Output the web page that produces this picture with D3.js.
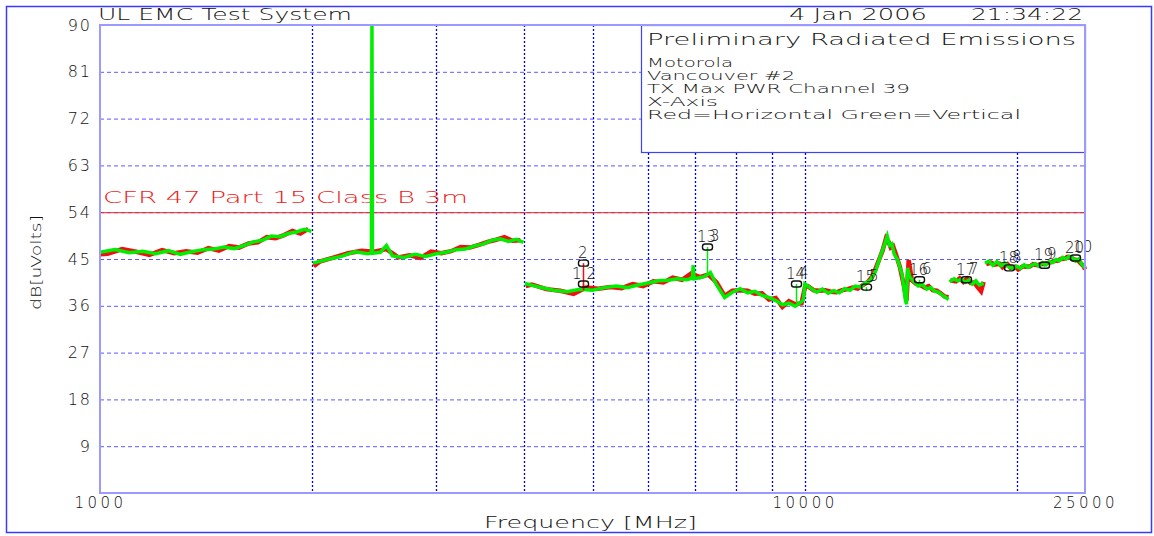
<!DOCTYPE html>
<html>
<head>
<meta charset="utf-8">
<title>UL EMC Test System</title>
<style>
  body { margin: 0; background: #fff; }
  svg text { font-family: "DejaVu Sans", sans-serif; font-weight: 200; fill: #111; }
</style>
</head>
<body>
<div id="chart"></div>
<script src="https://cdnjs.cloudflare.com/ajax/libs/d3/7.8.5/d3.min.js"></script>
<script>
// ---- data ----
var yTicks = [9, 18, 27, 36, 45, 54, 63, 72, 81, 90];
var xLabelTicks = [1000, 10000, 25000];
var xGridTicks = [2000, 3000, 4000, 5000, 6000, 7000, 8000, 9000, 10000, 20000];
var limitLevel = 54;
var limitLabel = 'CFR 47 Part 15  Class B 3m';
var infoLines = ['Motorola', 'Vancouver #2', 'TX Max PWR Channel 39', 'X-Axis', 'Red=Horizontal   Green=Vertical'];

// vertical polarisation (green), null = gap between sweep bands
var greenTrace = [
  [1000,46.3],[1050,46.8],[1100,46.2],[1150,46.5],[1200,46.0],[1250,46.6],[1300,45.9],[1350,46.4],[1400,46.8],
  [1450,46.9],[1500,47.3],[1550,47.0],[1600,47.6],[1650,48.3],[1700,48.6],[1750,49.4],[1800,49.3],[1850,49.9],
  [1900,50.2],[1950,50.7],[1995,50.3],
  null,
  [2005,44.2],[2100,44.9],[2200,45.5],[2300,46.4],[2400,46.0],[2428,46.2],[2432,90],[2436,46.1],[2500,46.3],
  [2550,47.6],[2600,45.6],[2700,45.3],[2800,45.9],[2900,45.5],[3000,46.0],[3100,46.3],[3200,46.8],[3300,46.9],
  [3400,47.5],[3500,47.9],[3600,48.6],[3700,48.9],[3800,48.4],[3900,48.8],[3990,48.2],
  null,
  [4010,40.3],[4200,39.6],[4400,39.0],[4600,38.7],[4800,39.2],[5000,39.0],[5200,39.5],[5400,39.8],[5600,39.5],
  [5800,40.0],[6000,40.4],[6200,40.8],[6400,40.9],[6600,41.2],[6800,41.0],[6930,41.3],[6950,43.8],[6970,41.2],
  [7200,41.6],[7350,42.4],[7500,40.0],[7700,37.6],[7900,38.6],[8100,39.3],[8300,38.5],[8500,38.8],[8700,38.0],
  [8900,37.6],[9100,37.0],[9300,36.2],[9500,36.5],[9700,35.9],[9900,36.8],[9960,37.2],[10010,40.2],[10200,39.4],
  [10400,38.6],[10600,39.2],[10800,38.4],[11000,38.9],[11200,38.5],[11400,39.3],[11600,39.0],[11800,39.8],
  [12000,39.6],[12200,40.4],[12400,40.9],[12600,42.6],[12800,45.4],[13000,48.0],[13100,49.4],[13200,47.6],
  [13300,47.9],[13400,46.0],[13550,44.8],[13750,42.0],[13900,37.2],[13950,36.3],[14000,43.3],[14100,41.5],
  [14300,40.6],[14500,39.8],[14700,40.1],[14900,39.2],[15100,39.5],[15300,38.8],[15500,38.6],[15700,38.0],
  [15900,37.5],[16000,37.2],
  null,
  [16050,40.6],[16300,41.2],[16500,40.8],[16700,41.1],[16900,40.5],[17100,40.9],[17300,40.2],[17500,40.8],
  [17700,40.0],[17950,40.3],
  null,
  [18030,44.2],[18250,44.6],[18500,43.8],[18750,44.5],[19000,43.7],[19250,44.2],[19500,43.5],[19750,43.2],
  [20000,43.6],[20250,43.2],[20500,43.9],[20750,43.4],[21000,43.8],[21250,44.1],[21500,43.6],[21750,44.3],
  [22000,43.9],[22250,44.5],[22500,44.3],[22750,44.9],[23000,44.7],[23250,45.3],[23500,45.0],[23750,45.5],
  [24000,45.2],[24250,44.6],[24500,45.0],[24750,44.0],[25000,43.3]
];

// horizontal polarisation (red)
var redTrace = [
  [1000,45.9],[1025,46.0],[1075,46.9],[1125,46.4],[1175,45.8],[1225,46.7],[1275,46.1],[1325,46.5],[1375,46.2],
  [1425,47.1],[1475,46.6],[1525,47.5],[1575,47.2],[1625,48.0],[1675,48.2],[1725,49.2],[1775,49.0],[1825,49.6],
  [1875,50.4],[1925,49.9],[1975,50.8],
  null,
  [2010,43.6],[2050,44.5],[2150,45.3],[2250,46.1],[2350,46.6],[2450,46.4],[2550,46.9],[2650,45.3],[2750,45.7],
  [2850,45.2],[2950,46.4],[3050,46.1],[3150,46.5],[3250,47.3],[3350,47.2],[3450,47.7],[3550,48.3],[3650,48.7],
  [3750,49.2],[3850,48.5],[3950,48.6],
  null,
  [4020,39.8],[4100,40.1],[4300,39.2],[4500,38.9],[4700,38.3],[4900,39.5],[5100,39.3],[5300,39.6],[5500,39.4],
  [5700,40.2],[5900,39.8],[6100,40.7],[6300,40.5],[6500,41.4],[6700,41.0],[6900,42.2],[7100,41.5],[7300,42.0],
  [7500,40.5],[7700,37.9],[7900,38.9],[8100,39.0],[8300,38.9],[8500,38.3],[8700,38.4],[8900,37.2],[9100,37.5],
  [9300,35.8],[9500,36.9],[9700,36.3],[9900,36.5],[10020,39.8],[10100,39.8],[10300,39.0],[10500,38.9],
  [10700,39.0],[10900,38.7],[11100,38.6],[11300,39.0],[11500,39.2],[11700,39.5],[11900,39.3],[12100,40.0],
  [12300,40.6],[12500,41.8],[12700,44.2],[12900,46.6],[13050,49.0],[13150,48.4],[13250,47.2],[13350,47.5],
  [13500,45.6],[13650,43.5],[13850,39.5],[13950,37.0],[14050,44.8],[14200,40.9],[14400,40.2],[14600,40.0],
  [14800,39.5],[15000,39.8],[15200,39.0],[15400,38.9],[15600,38.4],[15800,37.8],[16000,37.6],
  null,
  [16100,40.9],[16400,40.7],[16600,41.3],[16800,40.6],[17000,41.2],[17200,40.4],[17400,40.5],[17600,39.6],
  [17800,38.8],[17950,40.6],
  null,
  [18100,44.0],[18400,44.3],[18600,43.9],[18900,44.1],[19100,43.4],[19400,44.0],[19600,43.3],[19900,43.5],
  [20100,43.0],[20400,43.6],[20600,43.5],[20900,43.6],[21100,44.0],[21400,43.8],[21600,44.0],[21900,44.1],
  [22100,44.2],[22400,44.4],[22600,44.6],[22900,44.7],[23100,45.0],[23400,45.1],[23600,45.4],[23900,45.3],
  [24100,44.9],[24400,44.8],[24600,44.3],[24900,43.6],[25000,43.0]
];

// peak markers: freq, marker level, trace level, trace colour, labels
var markers = [
  {f: 4850,  level: 44.2, base: 39.0, color: 'red',   a: '2',  b: ''},
  {f: 4850,  level: 40.2, base: 39.0, color: 'red',   a: '1',  b: '2'},
  {f: 7270,  level: 47.3, base: 42.3, color: 'green', a: '13', b: '3'},
  {f: 9720,  level: 40.2, base: 36.5, color: 'green', a: '14', b: '4'},
  {f: 12220, level: 39.6, base: 38.8, color: 'green', a: '15', b: '5'},
  {f: 14530, level: 41.0, base: 40.0, color: 'green', a: '16', b: '6'},
  {f: 16940, level: 41.0, base: 40.5, color: 'green', a: '17', b: '7'},
  {f: 19500, level: 43.3, base: 43.0, color: 'green', a: '18', b: '8'},
  {f: 21870, level: 43.8, base: 43.5, color: 'green', a: '19', b: '9'},
  {f: 24190, level: 45.2, base: 44.5, color: 'green', a: '20', b: '10'}
];

var colors = {red: '#f01010', green: '#00ee00'};

// ---- drawing ----
var width = 1154, height = 536;
var plot = {left: 100, top: 25, right: 1085, bottom: 493};

var svg = d3.select('#chart').append('svg')
  .attr('width', width).attr('height', height);

var x = d3.scaleLog().domain([1000, 25000]).range([plot.left, plot.right]);
var y = d3.scaleLinear().domain([0, 90]).range([plot.bottom, plot.top]);

// fixed-width plotter style text
function label(sel, tx, ty, size, len, str) {
  return sel.append('text').attr('x', tx).attr('y', ty).attr('font-size', size)
    .attr('textLength', len).attr('lengthAdjust', 'spacingAndGlyphs').text(str);
}

// outer frame
svg.append('rect').attr('x', 6.5).attr('y', 6.5).attr('width', 1145).attr('height', 526)
  .attr('fill', 'none').attr('stroke', '#3a3aff').attr('stroke-width', 1.5);

// horizontal grid
svg.append('g').attr('class', 'hgrid')
  .selectAll('line').data(yTicks.filter(function(d) { return d < 90; })).join('line')
  .attr('x1', plot.left).attr('x2', plot.right)
  .attr('y1', function(d) { return y(d) + 0.5; }).attr('y2', function(d) { return y(d) + 0.5; })
  .attr('stroke', '#5a5aff').attr('stroke-width', 1).attr('stroke-dasharray', '4,3');

// vertical grid
svg.append('g').attr('class', 'vgrid')
  .selectAll('line').data(xGridTicks).join('line')
  .attr('x1', function(d) { return Math.round(x(d)) + 0.5; }).attr('x2', function(d) { return Math.round(x(d)) + 0.5; })
  .attr('y1', plot.top).attr('y2', plot.bottom)
  .attr('stroke', '#0000dd').attr('stroke-width', 1.3).attr('stroke-dasharray', '2,2');

// info box covers the grid
var box = svg.append('g');
box.append('rect').attr('x', 641.5).attr('y', 25.5).attr('width', 444).attr('height', 127)
  .attr('fill', '#fff').attr('stroke', '#4040ff').attr('stroke-width', 1.2);
label(box, 647, 45, 16, 429, 'Preliminary Radiated Emissions');
var infoWidths = [86, 148, 263, 71, 374];
infoLines.forEach(function(t, i) {
  label(box, 647, 67 + i * 13, 13, infoWidths[i], t);
});

// limit line
svg.append('line').attr('x1', plot.left).attr('x2', plot.right)
  .attr('y1', y(limitLevel) + 0.5).attr('y2', y(limitLevel) + 0.5)
  .attr('stroke', '#f02020').attr('stroke-width', 1);
label(svg, 103, 203, 15.5, 365, limitLabel).style('fill', '#f02020');

// traces
var line = d3.line()
  .defined(function(d) { return d !== null; })
  .x(function(d) { return x(d[0]); })
  .y(function(d) { return y(d[1]); });

svg.append('path').datum(redTrace).attr('d', line)
  .attr('fill', 'none').attr('stroke', colors.red).attr('stroke-width', 4.5).attr('stroke-linejoin', 'miter');
svg.append('path').datum(greenTrace).attr('d', line)
  .attr('fill', 'none').attr('stroke', colors.green).attr('stroke-width', 3.5).attr('stroke-linejoin', 'miter');

// markers
var mk = svg.append('g').attr('class', 'markers');
markers.forEach(function(m) {
  var mx = Math.round(x(m.f));
  mk.append('line').attr('x1', mx + 0.5).attr('x2', mx + 0.5)
    .attr('y1', y(m.level)).attr('y2', y(m.base))
    .attr('stroke', colors[m.color]).attr('stroke-width', 1.5);
  mk.append('rect').attr('x', mx - 4.5).attr('y', y(m.level) - 3)
    .attr('width', 10).attr('height', 6).attr('rx', 2.5)
    .attr('fill', 'none').attr('stroke', '#111').attr('stroke-width', 1.4);
  var ty = y(m.level) - 5;
  var t = mk.append('text').attr('font-size', 15).attr('y', ty);
  if (m.b === '') {
    t.attr('x', mx - 5).text(m.a);
  } else if (m.a.length === 1) {
    // "1" and "2" share the spot, spread apart
    t.attr('x', mx - 11);
    t.append('tspan').text(m.a);
    t.append('tspan').attr('dx', 5).text(m.b);
  } else {
    // two marker numbers drawn over each other
    t.attr('x', mx - 10);
    t.append('tspan').text(m.a);
    t.append('tspan').attr('dx', m.b.length > 1 ? -11 : -6).attr('dy', -1).text(m.b);
  }
});

// plot frame
svg.append('rect').attr('x', plot.left).attr('y', plot.top)
  .attr('width', plot.right - plot.left).attr('height', plot.bottom - plot.top)
  .attr('fill', 'none').attr('stroke', '#9a9aff').attr('stroke-width', 2);

// y axis labels
var yAxis = d3.axisLeft(y).tickValues(yTicks).tickSize(0).tickPadding(8);
var gy = svg.append('g').attr('transform', 'translate(' + plot.left + ',0)').call(yAxis);
gy.select('.domain').remove();
gy.selectAll('text').attr('font-size', 16).style('fill', '#111')
  .attr('font-family', '"DejaVu Sans", sans-serif').attr('font-weight', 200).attr('letter-spacing', 2);

// x axis labels
var xAxis = d3.axisBottom(x).tickValues(xLabelTicks).tickFormat(d3.format('d')).tickSize(0).tickPadding(4);
var gx = svg.append('g').attr('transform', 'translate(0,' + plot.bottom + ')').call(xAxis);
gx.select('.domain').remove();
gx.selectAll('text').attr('font-size', 15).style('fill', '#111')
  .attr('font-family', '"DejaVu Sans", sans-serif').attr('font-weight', 200).attr('letter-spacing', 3.5);

// axis titles and header
label(svg, 484, 528, 15, 213, 'Frequency [MHz]');
label(svg.append('g').attr('transform', 'translate(41,310) rotate(-90)'), 0, 0, 14, 95, 'dB[uVolts]');
label(svg, 98, 20, 16, 254, 'UL EMC Test System');
label(svg, 789, 20, 16, 138, '4 Jan 2006');
label(svg, 971, 20, 16, 112, '21:34:22');
</script>
</body>
</html>
